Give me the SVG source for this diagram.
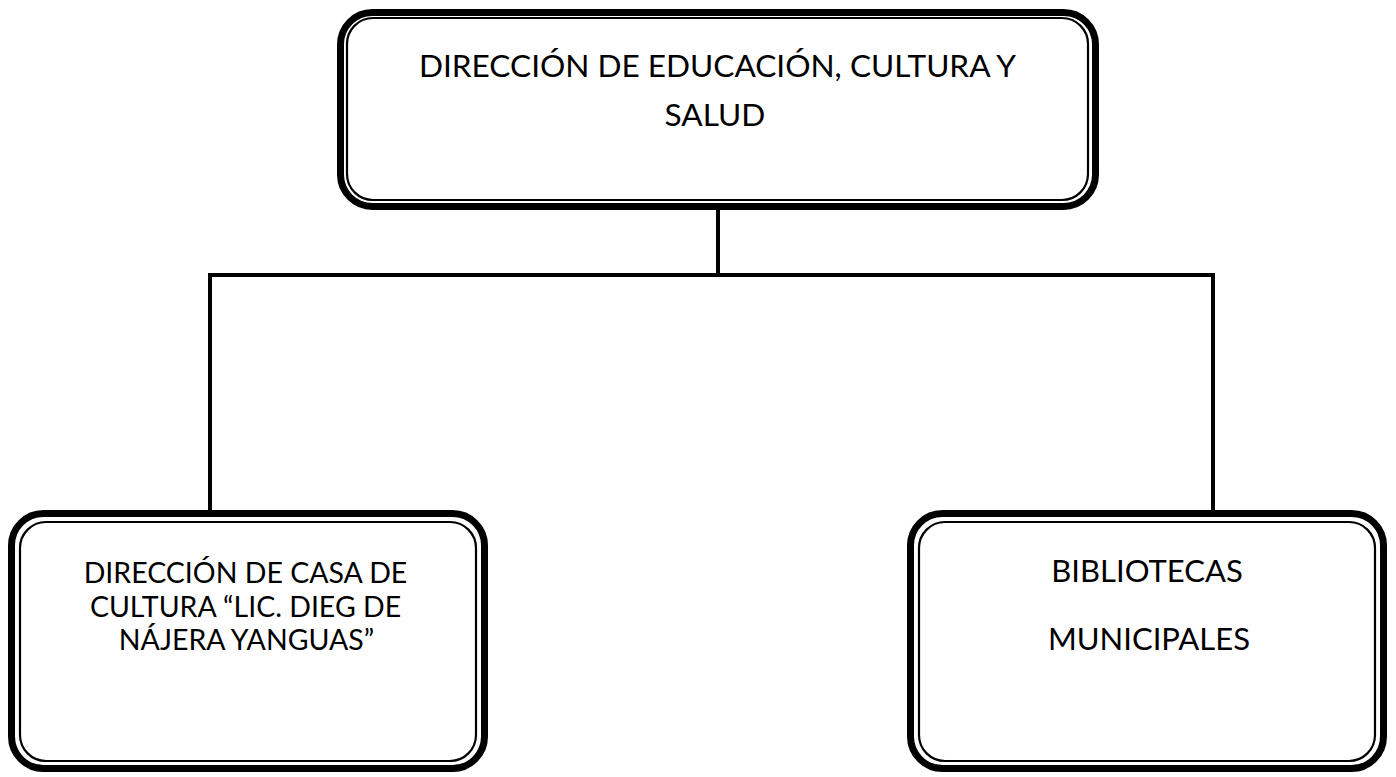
<svg xmlns="http://www.w3.org/2000/svg" width="1396" height="777" viewBox="0 0 1396 777">
<style>
.outer{fill:none;stroke:#000;stroke-width:7}
.inner{fill:none;stroke:#000;stroke-width:2.2}
.conn{fill:none;stroke:#000;stroke-width:4}
text{font-family:Lato,"Liberation Sans",sans-serif;fill:#000;text-anchor:middle}
.t1{font-size:31.6px}
.t2{font-size:28.5px}
.t3{font-size:31px}
</style>
<rect width="1396" height="777" fill="#fff"/>
<g id="connectors">
<path class="conn" d="M718 208 V275"/>
<path class="conn" d="M210 513 V275 H1213 V513"/>
</g>
<g id="node-top">
<rect class="outer" x="340.5" y="12.5" width="755" height="194" rx="32"/>
<rect class="inner" x="347" y="18" width="741" height="182" rx="26"/>
<text class="t1" x="717.5" y="77">DIRECCIÓN DE EDUCACIÓN, CULTURA Y</text>
<text class="t1" x="715" y="126">SALUD</text>
</g>
<g id="node-casa">
<rect class="outer" x="11.5" y="513.5" width="473" height="255" rx="32"/>
<rect class="inner" x="20" y="522" width="456" height="239" rx="26"/>
<text class="t2" x="245.5" y="583">DIRECCIÓN DE CASA DE</text>
<text class="t2" x="245.5" y="617">CULTURA “LIC. DIEG DE</text>
<text class="t2" x="246.5" y="650">NÁJERA YANGUAS”</text>
</g>
<g id="node-bibliotecas">
<rect class="outer" x="910.5" y="513.5" width="473" height="255" rx="32"/>
<rect class="inner" x="919" y="522" width="456" height="239" rx="26"/>
<text class="t3" x="1147" y="582">BIBLIOTECAS</text>
<text class="t3" x="1149" y="650">MUNICIPALES</text>
</g>
</svg>
